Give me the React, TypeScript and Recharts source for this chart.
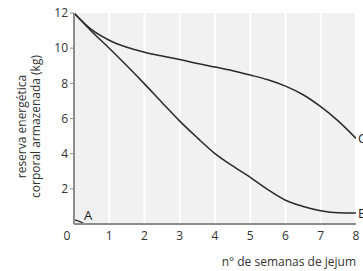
import React from "react";
import { LineChart, Line, XAxis, YAxis, CartesianGrid, Label } from "recharts";

const weeks = [0, 0.5, 1, 1.5, 2, 2.5, 3, 3.5, 4, 4.5, 5, 5.5, 6, 6.5, 7, 7.5, 8];
const reserveC = [12, 11.05, 10.45, 10.05, 9.77, 9.55, 9.35, 9.13, 8.93, 8.72, 8.47, 8.2, 7.84, 7.35, 6.67, 5.85, 4.87];
const reserveB = [12, 10.95, 10.0, 9.0, 7.97, 6.9, 5.85, 4.9, 4.0, 3.3, 2.65, 1.95, 1.35, 1.0, 0.76, 0.64, 0.62];
const weeksA = [0, 0.15, 0.3];
const reserveA = [0.25, 0.15, 0];
const xTicks = [0, 1, 2, 3, 4, 5, 6, 7, 8];
const yTicks = [2, 4, 6, 8, 10, 12];
const yTitle = ["reserva energética", "corporal armazenada (kg)"];
const xTitle = "n° de semanas de jejum";

const dataC = weeks.map((w, i) => ({ week: w, value: reserveC[i] }));
const dataB = weeks.map((w, i) => ({ week: w, value: reserveB[i] }));
const dataA = weeksA.map((w, i) => ({ week: w, value: reserveA[i] }));

const FONT = "'Open Sans', 'Noto Sans', sans-serif";
const LINE = "#2a2a2a";
const AXIS = "#8c8c8c";

const XTick = (props: any) => {
  const { x, y, payload } = props;
  const dx = payload.value === 0 ? -7 : 0;
  return (
    <text x={x + dx} y={y + 8} textAnchor="middle" fontSize={12} fill="#333" fontFamily={FONT}>
      {payload.value}
    </text>
  );
};

const endLabel = (text: string, lastIndex: number) => (props: any) => {
  const { x, y, index } = props;
  if (index !== lastIndex) return null;
  return (
    <text x={x + 2} y={y + 5} fontSize={13} fill="#222" fontFamily={FONT}>
      {text}
    </text>
  );
};

const aLabel = (props: any) => {
  const { x, y, index } = props;
  if (index !== 0) return null;
  return (
    <text x={x + 14} y={y} textAnchor="middle" fontSize={13} fill="#222" fontFamily={FONT}>
      A
    </text>
  );
};

const YTitle = (props: any) => {
  const { viewBox } = props;
  const cy = viewBox.y + viewBox.height / 2 + 8;
  return (
    <g fontFamily={FONT} fontSize={12} fill="#333">
      <text x={22} y={cy} textAnchor="middle" transform={`rotate(-90, 22, ${cy})`} dy={4}>
        {yTitle[0]}
      </text>
      <text x={36} y={cy} textAnchor="middle" transform={`rotate(-90, 36, ${cy})`} dy={4}>
        {yTitle[1]}
      </text>
    </g>
  );
};

const XTitle = (props: any) => {
  const { viewBox } = props;
  return (
    <text x={viewBox.x + viewBox.width} y={viewBox.y + 42} textAnchor="end" fontSize={12} fill="#333" fontFamily={FONT}>
      {xTitle}
    </text>
  );
};

export default function App() {
  return (
    <div style={{ position: "absolute", left: 0, top: 0, width: 363, height: 271, background: "#fff" }}>
      <LineChart width={363} height={271} margin={{ top: 13, right: 7, left: 0, bottom: 0 }} style={{ overflow: "visible" }}>
        <CartesianGrid fill="#f1f1f1" horizontal={false} stroke="#ffffff" strokeWidth={2} />
        <XAxis
          type="number"
          dataKey="week"
          domain={[0, 8]}
          ticks={xTicks}
          tickLine={false}
          axisLine={{ stroke: AXIS, strokeWidth: 2 }}
          tick={<XTick />}
          height={47}
          allowDataOverflow
        >
          <Label content={<XTitle />} />
        </XAxis>
        <YAxis
          type="number"
          domain={[0, 12]}
          ticks={yTicks}
          width={74}
          tickSize={4}
          tickLine={{ stroke: AXIS }}
          axisLine={{ stroke: AXIS, strokeWidth: 2 }}
          tick={{ fontSize: 12, fill: "#333", fontFamily: FONT }}
          allowDataOverflow
        >
          <Label content={<YTitle />} />
        </YAxis>
        <Line data={dataC} dataKey="value" type="monotone" stroke={LINE} strokeWidth={1.5} dot={false} isAnimationActive={false} label={endLabel("C", dataC.length - 1)} />
        <Line data={dataB} dataKey="value" type="monotone" stroke={LINE} strokeWidth={1.5} dot={false} isAnimationActive={false} label={endLabel("B", dataB.length - 1)} />
        <Line data={dataA} dataKey="value" type="monotone" stroke={LINE} strokeWidth={1.2} dot={false} isAnimationActive={false} label={aLabel} />
      </LineChart>
    </div>
  );
}
